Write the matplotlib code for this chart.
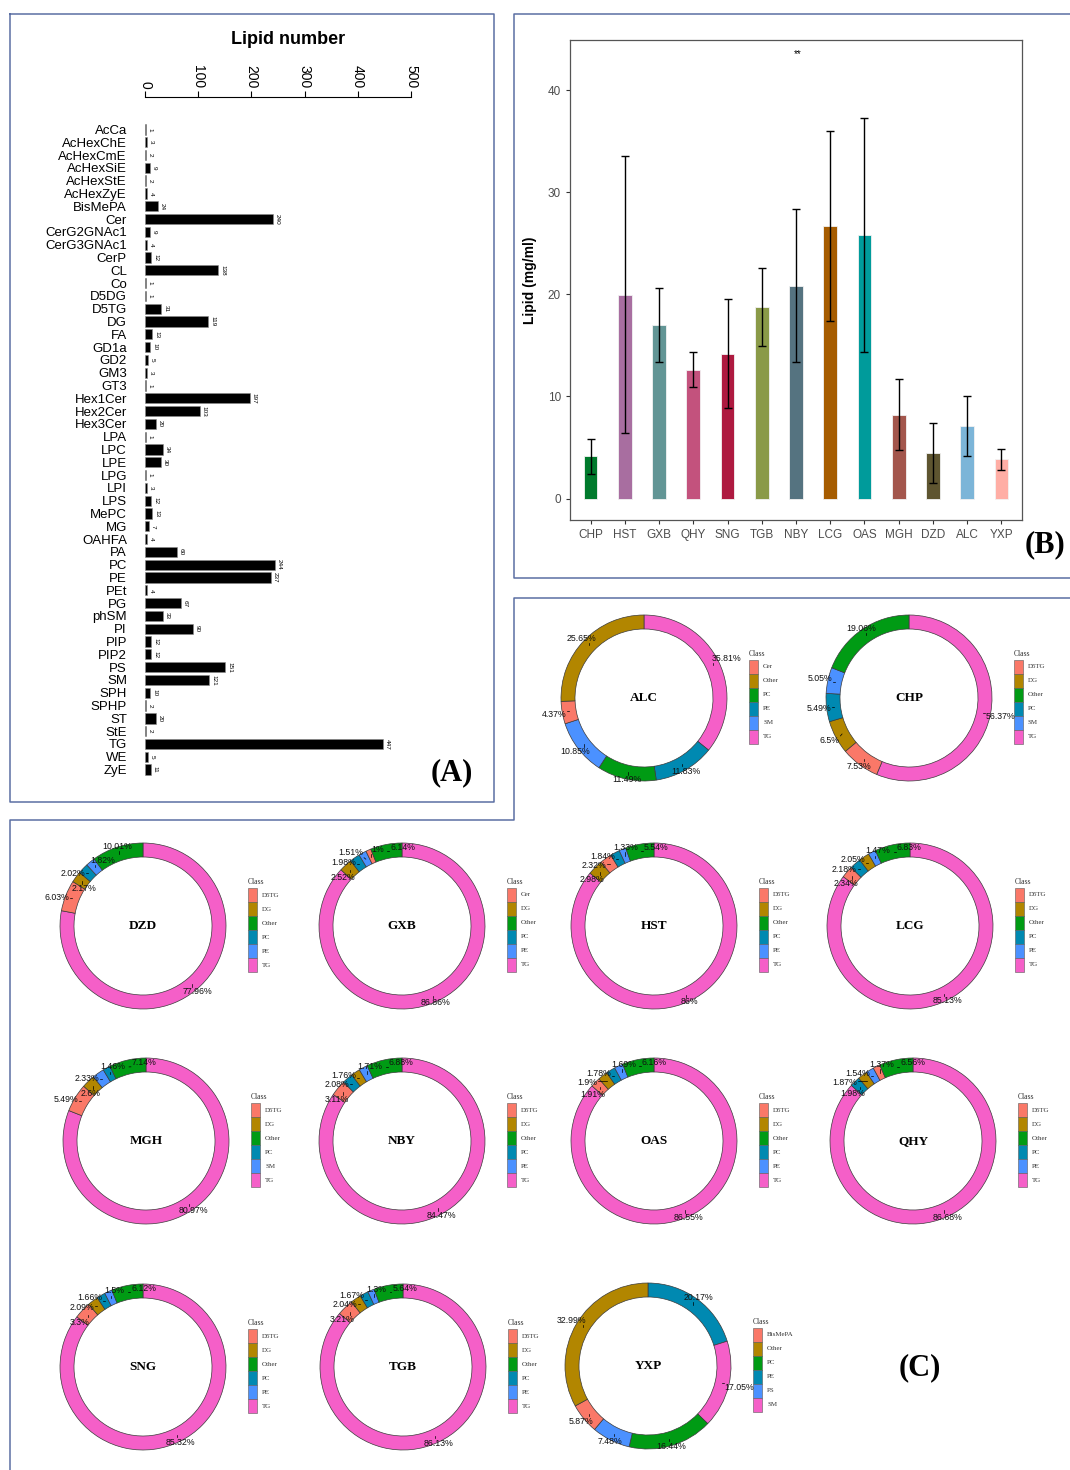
import numpy as np
import matplotlib
matplotlib.use('Agg')
import matplotlib.pyplot as plt
from matplotlib.lines import Line2D
from matplotlib.patches import Rectangle

W, H = 1070, 1470
plt.rcParams['font.family'] = ['Liberation Sans', 'DejaVu Sans']
SERIF = ['Liberation Serif', 'DejaVu Serif']

# ---- panel A data
lipid_classes = ['AcCa', 'AcHexChE', 'AcHexCmE', 'AcHexSiE', 'AcHexStE', 'AcHexZyE', 'BisMePA',
                 'Cer', 'CerG2GNAc1', 'CerG3GNAc1', 'CerP', 'CL', 'Co', 'D5DG', 'D5TG', 'DG', 'FA',
                 'GD1a', 'GD2', 'GM3', 'GT3', 'Hex1Cer', 'Hex2Cer', 'Hex3Cer', 'LPA', 'LPC', 'LPE',
                 'LPG', 'LPI', 'LPS', 'MePC', 'MG', 'OAHFA', 'PA', 'PC', 'PE', 'PEt', 'PG', 'phSM',
                 'PI', 'PIP', 'PIP2', 'PS', 'SM', 'SPH', 'SPHP', 'ST', 'StE', 'TG', 'WE', 'ZyE']
lipid_counts = [1, 3, 2, 9, 2, 4, 24, 240, 9, 4, 12, 138, 1, 1, 31, 119, 13, 10, 5, 3, 1,
                197, 103, 20, 1, 34, 30, 1, 3, 12, 13, 7, 4, 60, 244, 237, 4, 67, 33, 90,
                12, 12, 151, 121, 10, 2, 20, 2, 447, 5, 11]

# ---- panel B data
groups = ['CHP', 'HST', 'GXB', 'QHY', 'SNG', 'TGB', 'NBY', 'LCG', 'OAS', 'MGH', 'DZD', 'ALC', 'YXP']
lipid_mean = [4.12, 19.97, 16.98, 12.62, 14.2, 18.73, 20.86, 26.65, 25.83, 8.23, 4.43, 7.07, 3.84]
lipid_sd = [1.68, 13.6, 3.6, 1.7, 5.35, 3.84, 7.48, 9.3, 11.45, 3.5, 2.95, 2.95, 1.05]
group_colors = ['#007A2C', '#A86EA0', '#629595', '#C3527D', '#AE1A40', '#8A9A48', '#557380',
                '#A65C00', '#009B9B', '#A3564C', '#5E5530', '#7CB5D8', '#FFAEA5']

# ---- panel C data (slices clockwise from 12 o'clock)
donut_names = ['ALC', 'CHP', 'DZD', 'GXB', 'HST', 'LCG', 'MGH', 'NBY', 'OAS', 'QHY', 'SNG', 'TGB', 'YXP']
donut_classes = [
    ['TG', 'PE', 'PC', 'SM', 'Cer', 'Other'],
    ['TG', 'D5TG', 'DG', 'PC', 'SM', 'Other'],
    ['TG', 'D5TG', 'DG', 'PC', 'PE', 'Other'],
    ['TG', 'DG', 'PC', 'PE', 'Cer', 'Other'],
    ['TG', 'DG', 'D5TG', 'PC', 'PE', 'Other'],
    ['TG', 'D5TG', 'PC', 'DG', 'PE', 'Other'],
    ['TG', 'D5TG', 'DG', 'SM', 'PC', 'Other'],
    ['TG', 'D5TG', 'PC', 'DG', 'PE', 'Other'],
    ['TG', 'D5TG', 'DG', 'PC', 'PE', 'Other'],
    ['TG', 'PC', 'DG', 'PE', 'D5TG', 'Other'],
    ['TG', 'D5TG', 'DG', 'PC', 'PE', 'Other'],
    ['TG', 'D5TG', 'DG', 'PC', 'PE', 'Other'],
    ['PE', 'SM', 'PC', 'PS', 'BisMePA', 'Other'],
]
donut_values = [
    [35.81, 11.83, 11.49, 10.85, 4.37, 25.65],
    [56.37, 7.53, 6.5, 5.49, 5.05, 19.06],
    [77.96, 6.03, 2.17, 2.02, 1.82, 10.01],
    [86.86, 2.52, 1.98, 1.51, 1.0, 6.14],
    [86.0, 2.98, 2.32, 1.84, 1.33, 5.54],
    [85.13, 2.34, 2.18, 2.05, 1.47, 6.83],
    [80.97, 5.49, 2.6, 2.33, 1.46, 7.14],
    [84.47, 3.11, 2.08, 1.76, 1.71, 6.88],
    [86.55, 1.91, 1.9, 1.78, 1.69, 6.16],
    [86.68, 1.98, 1.87, 1.54, 1.37, 6.56],
    [85.32, 3.3, 2.09, 1.66, 1.5, 6.12],
    [86.13, 3.21, 2.04, 1.67, 1.3, 5.64],
    [20.17, 17.05, 16.44, 7.48, 5.87, 32.99],
]
class_palette = ['#FA7868', '#B28600', '#009B14', '#0089B1', '#4B91FF', '#F55FC8']

donut_centers = [(644, 698), (909, 698),
                 (143, 926), (402, 926), (654, 926), (910, 926),
                 (146, 1141), (402, 1141), (654, 1141), (913, 1141),
                 (143, 1367), (403, 1367), (648, 1366)]

FRAME = '#5B6FA3'


def fig_box(x0, y0, x1, y1):
    return [x0 / W, 1 - y1 / H, (x1 - x0) / W, (y1 - y0) / H]


def frame_line(fig, xs, ys):
    fig.add_artist(Line2D([x / W for x in xs], [1 - y / H for y in ys], color=FRAME, lw=1.1))


def text_width(s, em=8.6):
    w = 0
    for ch in s:
        w += {'.': 0.278, '%': 0.889}.get(ch, 0.556)
    return w * em + 2


def repel(anchors, sizes, steps=400):
    pos = anchors.copy()
    n = len(pos)
    for it in range(steps):
        for i in range(n):
            for j in range(i + 1, n):
                d = pos[j] - pos[i]
                ox = (sizes[i][0] + sizes[j][0]) / 2 - abs(d[0])
                oy = (sizes[i][1] + sizes[j][1]) / 2 - abs(d[1])
                if ox > 0 and oy > 0:
                    nrm = np.hypot(*d)
                    if nrm < 1e-6:
                        d, nrm = np.array([0.0, 1.0]), 1.0
                    push = d / nrm * min(ox, oy) * 0.3
                    pos[i] -= push
                    pos[j] += push
            # keep a little away from every anchor point
            for k in range(n):
                d = pos[i] - anchors[k]
                ox = sizes[i][0] / 2 + 3 - abs(d[0])
                oy = sizes[i][1] / 2 + 3 - abs(d[1])
                if ox > 0 and oy > 0:
                    nrm = np.hypot(*d)
                    if nrm < 1e-6:
                        d, nrm = anchors[k] / np.hypot(*anchors[k]), 1.0
                    pos[i] += d / nrm * min(ox, oy) * 0.2
        pos += 0.015 * (anchors - pos)
    return pos


def draw_donut(fig, name, classes, values, center):
    cx, cy = center
    ax = fig.add_axes(fig_box(cx - 100, cy - 100, cx + 100, cy + 100))
    legend_order = sorted(classes)
    colors = [class_palette[legend_order.index(c)] for c in classes]
    wedges, _ = ax.pie(values, colors=colors, radius=83, startangle=90, counterclock=False,
                       wedgeprops=dict(width=14, edgecolor='#3a3a3a', linewidth=0.5))
    ax.set_xlim(-100, 100)
    ax.set_ylim(-100, 100)
    ax.set_aspect('equal')
    ax.text(0, 0, name, ha='center', va='center', family=SERIF, fontweight='bold', fontsize=9.5)

    # percentage labels with leader lines
    mids = np.array([np.deg2rad((w.theta1 + w.theta2) / 2) for w in wedges])
    anchors = np.column_stack([76 * np.cos(mids), 76 * np.sin(mids)])
    texts = [f'{v:g}%' for v in values]
    sizes = [(text_width(t), 9.5) for t in texts]
    pos = repel(anchors, sizes)
    for (axx, ayy), (lx, ly), (w, h), t in zip(anchors, pos, sizes, texts):
        px = np.clip(axx, lx - w / 2, lx + w / 2)
        py = np.clip(ayy, ly - h / 2, ly + h / 2)
        if np.hypot(px - axx, py - ayy) > 1.5:
            ax.plot([axx, px], [ayy, py], color='black', lw=0.5, clip_on=False)
        ax.text(lx, ly, t, ha='center', va='center', fontsize=6.3, color='#111111')

    # legend
    lx0, top, kh = 105, 38, 14
    ax.text(lx0, top + 6, 'Class', ha='left', va='center', family=SERIF, fontsize=5.5, color='#333333')
    for k, cls in enumerate(legend_order):
        ax.add_patch(Rectangle((lx0, top - (k + 1) * kh), 9, kh, facecolor=class_palette[k],
                               edgecolor='#5a5a5a', lw=0.4, clip_on=False))
        ax.text(lx0 + 14, top - (k + 0.5) * kh, cls, ha='left', va='center', family=SERIF,
                fontsize=5, color='#333333')


def main():
    fig = plt.figure(figsize=(W / 100, H / 100), dpi=100)

    # ---------------- panel A
    axA = fig.add_axes(fig_box(145, 123, 411, 776))
    y = np.arange(len(lipid_classes))
    axA.barh(y, lipid_counts, height=0.8, color='black', edgecolor='#8a8a8a', linewidth=0.4)
    axA.set_xlim(0, 500)
    axA.set_ylim(len(lipid_classes) - 0.5, -0.5)
    axA.set_yticks(y, lipid_classes, fontsize=9.5)
    axA.tick_params(axis='y', length=0, pad=13)
    axA.xaxis.tick_top()
    ticks = list(range(0, 501, 100))
    axA.set_xticks(ticks, [str(t) for t in ticks], fontsize=9)
    axA.tick_params(axis='x', direction='out', length=4, width=0.8, pad=2, labelrotation=270)
    for s in ['left', 'right', 'bottom']:
        axA.spines[s].set_visible(False)
    axA.spines['top'].set_position(('outward', 19))
    axA.spines['top'].set_linewidth(0.8)
    for yi, v in zip(y, lipid_counts):
        axA.annotate(str(v), (v, yi), xytext=(1.5, 0), textcoords='offset points',
                     rotation=270, fontsize=4.6, ha='left', va='center')
    fig.text(288 / W, 1 - 40 / H, 'Lipid number', ha='center', va='center', fontsize=13, fontweight='bold')
    fig.text(452 / W, 1 - 773 / H, '(A)', ha='center', va='center', family=SERIF,
             fontsize=22, fontweight='bold')

    # ---------------- panel B
    axB = fig.add_axes(fig_box(570, 40, 1022, 520))
    x = np.arange(len(groups))
    axB.bar(x, lipid_mean, width=0.4, color=group_colors, edgecolor='#f2f2f2', linewidth=0.6)
    axB.errorbar(x, lipid_mean, yerr=lipid_sd, fmt='none', ecolor='black', elinewidth=1,
                 capsize=3, capthick=1)
    axB.set_xlim(-0.6, len(groups) - 0.4)
    axB.set_ylim(-2.1, 44.9)
    axB.set_yticks([0, 10, 20, 30, 40])
    axB.set_xticks(x, groups)
    axB.tick_params(labelsize=8.5, labelcolor='#4d4d4d', color='#333333', length=3, width=0.8)
    axB.set_ylabel('Lipid (mg/ml)', fontweight='bold', fontsize=10, labelpad=8)
    for s in axB.spines.values():
        s.set_color('#555555')
        s.set_linewidth(0.9)
    axB.text(6.05, 43.5, '**', ha='center', va='center', fontsize=7)
    fig.text(1045 / W, 1 - 545 / H, '(B)', ha='center', va='center', family=SERIF,
             fontsize=22, fontweight='bold')

    # ---------------- panel C
    for name, classes, values, center in zip(donut_names, donut_classes, donut_values, donut_centers):
        draw_donut(fig, name, classes, values, center)
    fig.text(920 / W, 1 - 1368 / H, '(C)', ha='center', va='center', family=SERIF,
             fontsize=22, fontweight='bold')

    # panel frames
    frame_line(fig, [10, 494, 494, 10, 10], [14, 14, 802, 802, 14])
    frame_line(fig, [1075, 514, 514, 1075], [14, 14, 578, 578])
    frame_line(fig, [1075, 514, 514, 10, 10], [598, 598, 820, 820, 1475])

    fig.savefig('out.png', dpi=100)


if __name__ == '__main__':
    main()
